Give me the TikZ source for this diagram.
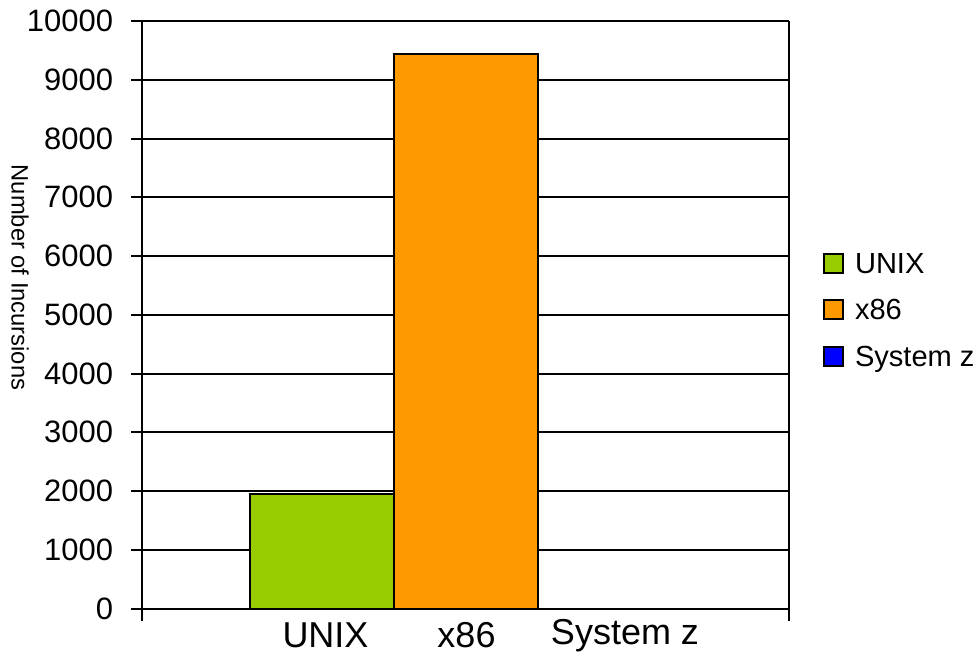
\documentclass[tikz,border=0pt]{standalone}
\usepackage{fontspec}
\setmainfont{Liberation Sans}
\usetikzlibrary{positioning}
\definecolor{unixgreen}{HTML}{99CC00}
\definecolor{xorange}{HTML}{FF9900}
\definecolor{zblue}{HTML}{0000FF}
\tikzset{
	ticklabel/.style={anchor=east, inner sep=0pt, font=\fontsize{23.2}{26}\selectfont},
	catlabel/.style={anchor=base, inner sep=0pt, font=\fontsize{27}{30}\selectfont},
	keylabel/.style={anchor=base west, inner sep=0pt, font=\fontsize{21.8}{24}\selectfont},
	barbox/.style={draw=black, line width=1.5pt}
}
\begin{document}
\begin{tikzpicture}[x=0.75pt, y=-0.75pt, line width=1.5pt]
				\useasboundingbox (0,0) rectangle (980,653);
				\foreach \v in {0,...,10} {
					\pgfmathtruncatemacro\val{\v*1000}
					\draw (131,608.5-58.75*\v) -- (789,608.5-58.75*\v);
					\node[ticklabel] (tick\v) at (114,608.5-58.75*\v) {\val};
				}
				\filldraw[barbox, fill=unixgreen] (250,608.5) rectangle (393.5,494.3);
				\filldraw[barbox, fill=xorange] (393.5,608.5) rectangle (537.5,54.3);
				\draw (142,21) -- (142,621);
				\draw (789,21) -- (789,621);
				\draw (131,608.5) -- (789,608.5);
				\node[catlabel] (catunix) at (325.5,647) {UNIX};
				\node[catlabel] (catx) at (466.5,647) {x86};
				\node[catlabel] (catz) at (625,644) {System z};
				\node[rotate=-90, inner sep=0pt, font=\fontsize{17.8}{20}\selectfont] (ytitle) at (20,277.5) {Number of Incursions};
				\filldraw[barbox, fill=unixgreen] (824,253.5) rectangle (843,272.5);
				\node[keylabel] (keyunix) at (854,273) {UNIX};
				\filldraw[barbox, fill=xorange] (824,300) rectangle (843,319);
				\node[keylabel] (keyx) at (854,319) {x86};
				\filldraw[barbox, fill=zblue] (824,347) rectangle (843,366);
				\node[keylabel] (keyz) at (854,366.5) {System z};
			\end{tikzpicture}
\end{document}
